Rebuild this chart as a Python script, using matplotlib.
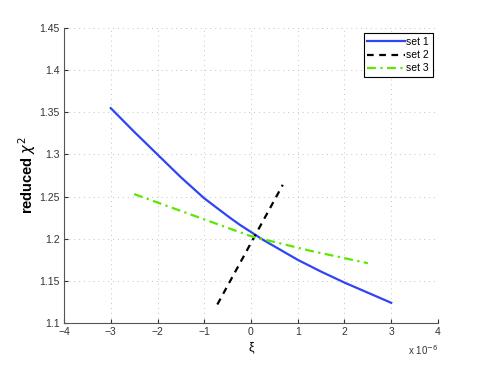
import matplotlib
matplotlib.use("Agg")
import matplotlib.pyplot as plt

plt.rcParams['font.family'] = ['Liberation Sans', 'DejaVu Sans']

# x values in units of 1e-6
set1_x = [-3, -2.5, -2, -1.5, -1, -0.5, -0.25, 0, 0.25, 0.5, 1, 1.5, 2, 2.5, 3]
set1_y = [1.355, 1.327, 1.300, 1.273, 1.248, 1.227, 1.217, 1.208, 1.199, 1.191, 1.175, 1.161, 1.148, 1.136, 1.124]

set2_x = [-0.72, 0.68]
set2_y = [1.122, 1.264]

set3_x = [-2.5, -1.25, 0, 1.25, 2.5]
set3_y = [1.253, 1.228, 1.203, 1.186, 1.171]

xticks = [-4, -3, -2, -1, 0, 1, 2, 3, 4]
yticks = [1.1, 1.15, 1.2, 1.25, 1.3, 1.35, 1.4, 1.45]
ytick_labels = ['1.1', '1.15', '1.2', '1.25', '1.3', '1.35', '1.4', '1.45']

fig = plt.figure(figsize=(4.85, 3.65), dpi=100)
ax = fig.add_axes([0.132, 0.115, 0.771, 0.808])

ax.plot(set1_x, set1_y, color='#2f45f5', lw=1.6, label='set 1')
ax.plot(set2_x, set2_y, color='black', lw=1.6, ls=(0, (3, 2.5)), label='set 2')
ax.plot(set3_x, set3_y, color='#5ce600', lw=1.6, ls=(0, (4, 2, 1, 2)), label='set 3')

ax.set_xlim(-4, 4)
ax.set_ylim(1.1, 1.45)
ax.set_xticks(xticks)
ax.set_xticklabels(['\u22124', '\u22123', '\u22122', '\u22121', '0', '1', '2', '3', '4'])
ax.set_yticks(yticks)
ax.set_yticklabels(ytick_labels)
ax.tick_params(direction='in', length=3, labelsize=7.5, colors='#333333', pad=3)
for s in ['top', 'right']:
    ax.spines[s].set_visible(False)
for s in ['left', 'bottom']:
    ax.spines[s].set_color('#555555')
ax.grid(True, ls=(0, (1, 4)), color='#c4c4c4', lw=0.7)

ax.set_xlabel('\u03be', fontsize=9, labelpad=3)
ax.set_ylabel(r'reduced $\chi^2$', fontsize=10.5, fontweight='bold', labelpad=1)
ax.text(1.0, -0.07, r'x 10$^{-6}$', transform=ax.transAxes, ha='right', va='top',
        fontsize=7, color='#333333')

leg = ax.legend(loc='upper right', bbox_to_anchor=(0.986, 0.982), fontsize=7.5,
                fancybox=False, edgecolor='black', framealpha=1, handlelength=3.6,
                handletextpad=0.15, borderpad=0.35, labelspacing=0.3, borderaxespad=0)
leg.get_frame().set_linewidth(0.8)

fig.savefig('out.png', dpi=100)
